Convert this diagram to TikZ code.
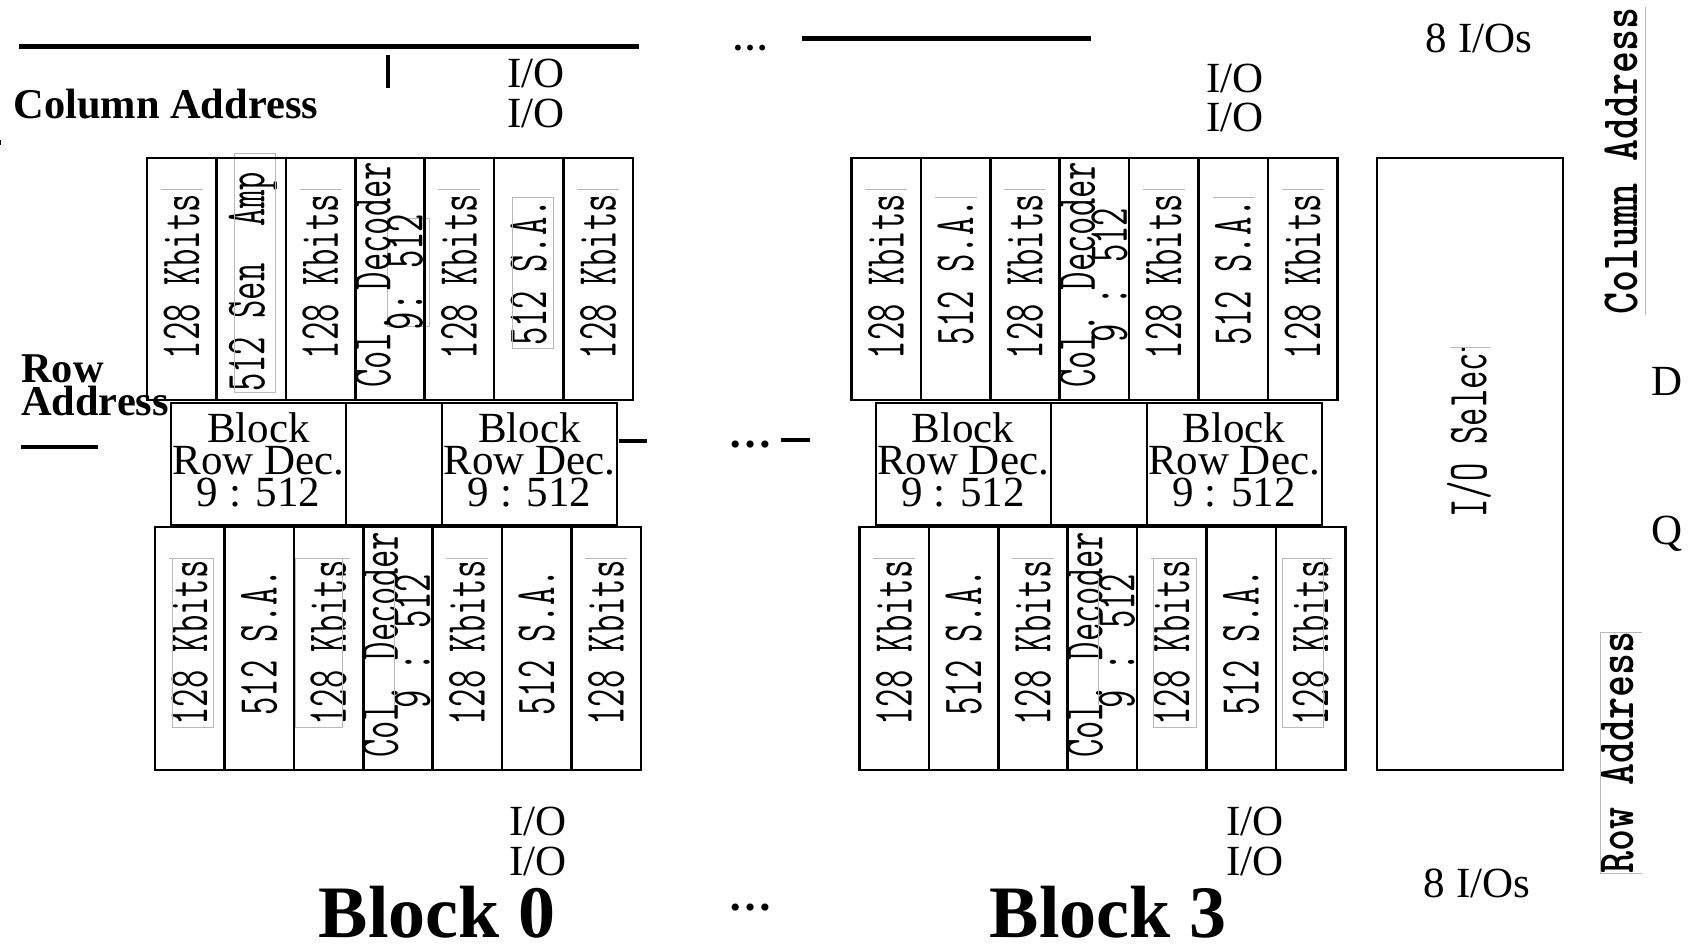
\documentclass[tikz,border=0pt]{standalone}
\usepackage{fontspec}
\setmainfont{Liberation Serif}
\usepackage{graphicx}
\newcommand\ctext[1]{\scalebox{1}[1.6]{\ttfamily\fontsize{35.6}{36}\selectfont #1}}
\newcommand\rtext[1]{\scalebox{1}[1.25]{\ttfamily\bfseries\fontsize{41.9}{42}\selectfont #1}}
\begin{document}
\begin{tikzpicture}[x=1pt,y=-1pt,
  cellbox/.style={draw, line width=2.6pt, inner sep=0pt, minimum width=69.4pt, minimum height=242pt},
  decbox/.style={draw, line width=2pt, inner sep=0pt, minimum height=122pt},
  ctxt/.style={rotate=90, inner sep=0pt},
  faint/.style={draw=black!28, line width=0.7pt},
  bus/.style={line width=5pt},
  lbl/.style={inner sep=0pt, font=\fontsize{43}{43}\selectfont, anchor=base},
  blbl/.style={inner sep=0pt, font=\bfseries\fontsize{42.4}{33}\selectfont, anchor=base west},
  big/.style={inner sep=0pt, font=\bfseries\fontsize{74}{74}\selectfont, anchor=base},
  dots/.style={inner sep=0pt, font=\bfseries\fontsize{44}{44}\selectfont, anchor=base},
  rdec/.style={inner sep=0pt, align=center, font=\fontsize{43}{32}\selectfont}
]
\useasboundingbox (0,0) rectangle (1697,943);

% ---------- blocks ----------
\foreach \b/\dx in {0/0,3/704.5}{
\begin{scope}[xshift=\dx pt]
  % top array texts
  \foreach \i in {0,2,4,6}{
    \node[ctxt] (b\b tk\i) at ({181.7+69.4*\i},276.5) {\ctext{128 Kbits}};
    \draw[faint] ({181.7+69.4*\i-21},189) coordinate (b\b tg\i) -- ++(42,0);
  }
  \node[ctxt] (b\b ts5) at (528.7,272.5) {\ctext{512 S.A.}};
  \ifnum\b=0
    \begin{scope}
      \clip (217,158) rectangle (286,400);
      \node[ctxt, anchor=west] (b\b ts1) at (253,392) {\ctext{512 Sen~~Amp}};
    \end{scope}
    \draw[faint] (234,153) rectangle (275,392);
    \draw[faint] (512,197) rectangle (553,348);
    \draw[faint] (387,218) rectangle (429,326);
    \node[ctxt] (b\b td2) at (404.9,272) {\ctext{9: 512}};
  \else
    \node[ctxt] (b\b ts1) at (251.1,272.5) {\ctext{512 S.A.}};
    \draw[faint] (230,197) -- (272,197);
    \draw[faint] (508,197) -- (550,197);
    \node[ctxt] (b\b td2) at (404.9,275) {\ctext{9 : 512}};
  \fi
  \begin{scope}
    \clip (355,158) rectangle (425,400);
    \node[ctxt, anchor=west] (b\b td1) at (372.9,388) {\ctext{Col. Decoder}};
  \end{scope}
  % bottom array texts
  \foreach \i in {0,2,4,6}{
    \node[ctxt] (b\b uk\i) at ({189.7+69.4*\i},643) {\ctext{128 Kbits}};
    \draw[faint] ({189.7+69.4*\i-21},558) coordinate (b\b ug\i) -- ++(42,0);
  }
  \node[ctxt] (b\b us1) at (259.1,642) {\ctext{512 S.A.}};
  \node[ctxt] (b\b us5) at (536.7,642) {\ctext{512 S.A.}};
  \begin{scope}
    \clip (363,527) rectangle (432,770);
    \node[ctxt, anchor=west] (b\b ud1) at (380.4,758) {\ctext{Col. Decoder}};
  \end{scope}
  \node[ctxt] (b\b ud2) at (412.4,641) {\ctext{9 : 512}};
  \draw[faint] (394,578) -- (394,705);
  % boxes
  \foreach \i in {0,...,6}{
    \node[cellbox] (b\b t\i) at ({181.7+69.4*\i},279) {};
    \node[cellbox, minimum height=243pt] (b\b u\i) at ({189.7+69.4*\i},648.5) {};
  }
  \node[decbox, minimum width=175pt] (b\b rd1) at (258.5,464) {};
  \node[decbox, minimum width=96pt] (b\b rdm) at (394,464) {};
  \node[decbox, minimum width=175pt] (b\b rd2) at (529.5,464) {};
  \node[rdec] (b\b rt1) at (258.5,459.5) {Block\\Row Dec.\\9 : 512};
  \node[rdec] (b\b rt2) at (529.5,459.5) {Block\\Row Dec.\\9 : 512};
\end{scope}
}
% extra faint frames
\draw[faint] (172,558) rectangle (213,727);
\draw[faint] (295,558) rectangle (342,727);
\draw[faint] (1153,558) rectangle (1196,727);
\draw[faint] (1282,558) rectangle (1323,727);

% ---------- I/O select ----------
\begin{scope}
  \clip (1377,347) rectangle (1563,770);
  \node[ctxt, anchor=west] (iosel) at (1469,518) {\ctext{I/O Select}};
\end{scope}
\draw[faint] (1450,347) -- (1490,347);
\node[draw, line width=2pt, inner sep=0pt, minimum width=186pt, minimum height=612pt] (iobox) at (1470,464) {};

% ---------- right labels ----------
\node[ctxt] (coladdr) at (1621,161) {\rtext{Column Address}};
\draw[faint] (1645,7) -- (1645,315);
\node[ctxt] (rowaddr) at (1617.5,752.5) {\rtext{Row Address}};
\draw[faint] (1642,632) -- (1600,632) -- (1600,873) -- (1642,873);
\node[lbl] (dlab) at (1667,395) {D};
\node[lbl] (qlab) at (1667,544) {Q};

% ---------- texts ----------
\node[blbl] (colL) at (13.5,118) {Column Address};
\node[blbl] (rowL1) at (21,382) {Row};
\node[blbl] (rowL2) at (21,415) {Address};
\node[lbl] (io1) at (536,87) {I/O};
\node[lbl] (io2) at (536,127) {I/O};
\node[lbl] (io3) at (1235,92) {I/O};
\node[lbl] (io4) at (1235,131) {I/O};
\node[lbl] (io5) at (538,835) {I/O};
\node[lbl] (io6) at (538,875) {I/O};
\node[lbl] (io7) at (1255,835) {I/O};
\node[lbl] (io8) at (1255,875) {I/O};
\node[lbl] (eio1) at (1479,52) {8 I/Os};
\node[lbl] (eio2) at (1477,897) {8 I/Os};
\node[big] (blk0) at (437,937) {Block 0};
\node[big] (blk3) at (1108,937) {Block 3};
\node[dots, font=\bfseries\fontsize{36}{36}\selectfont] (dt1) at (750,50) {…};
\node[dots] (dt2) at (750,447) {…};
\node[dots] (dt3) at (750,910) {…};

% ---------- bus lines ----------
\coordinate (l1a) at (19,46); \coordinate (l1b) at (639,46);
\draw[bus] (l1a) -- (l1b);
\coordinate (tk1) at (387.5,55); \coordinate (tk2) at (387.5,88);
\draw[line width=4pt] (tk1) -- (tk2);
\coordinate (l3a) at (802,38.5); \coordinate (l3b) at (1091,38.5);
\draw[bus] (l3a) -- (l3b);
\coordinate (ra1) at (21,447); \coordinate (ra2) at (98,447);
\draw[line width=4pt] (ra1) -- (ra2);
\coordinate (d1a) at (619,441); \coordinate (d1b) at (647,441);
\draw[line width=4pt] (d1a) -- (d1b);
\coordinate (d2a) at (781,440); \coordinate (d2b) at (810,440);
\draw[line width=4pt] (d2a) -- (d2b);
\coordinate (lt1) at (0.5,140); \coordinate (lt2) at (0.5,145);
\draw[line width=1pt] (lt1) -- (lt2);
\end{tikzpicture}
\end{document}
